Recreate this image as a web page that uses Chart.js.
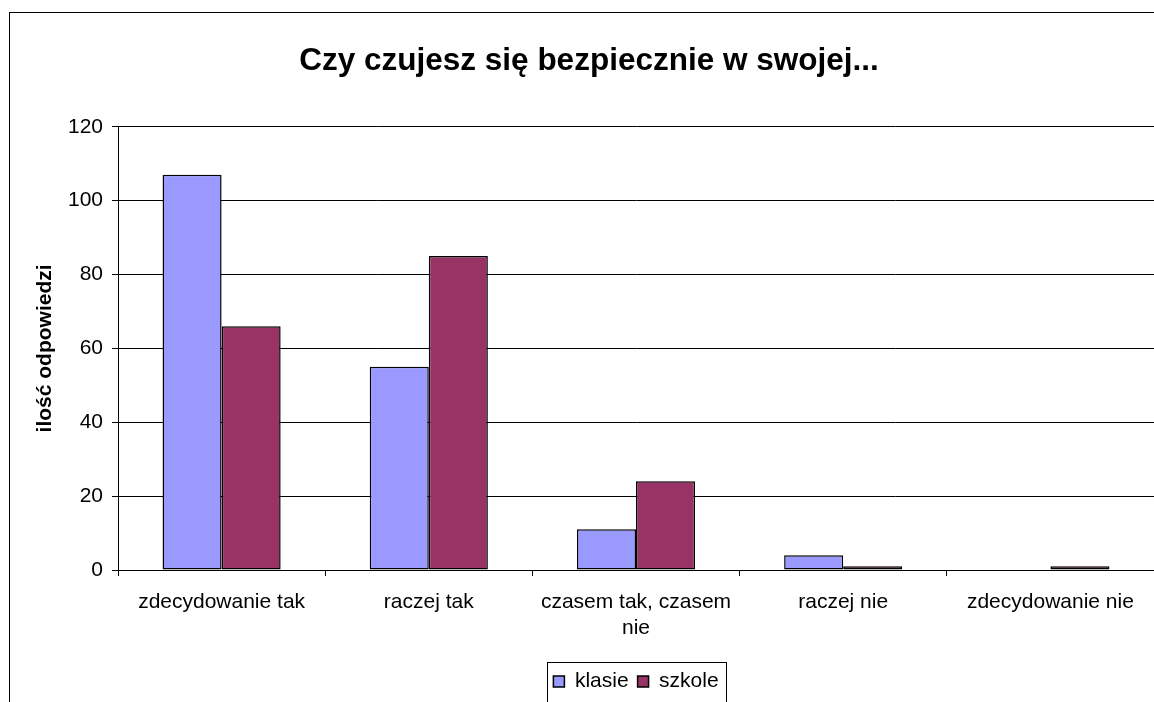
<!DOCTYPE html>
<html>
<head>
<meta charset="utf-8">
<script src="https://cdn.jsdelivr.net/npm/chart.js@4"></script>
<style>
  html, body { margin: 0; padding: 0; background: #fff; }
  #wrap { width: 1154px; height: 702px; position: relative; }
</style>
</head>
<body>
<div id="wrap"><canvas id="c" width="1154" height="702"></canvas></div>
<script>
const categories = ['zdecydowanie tak', 'raczej tak', ['czasem tak, czasem', 'nie'], 'raczej nie', 'zdecydowanie nie'];
const klasie = [107, 55, 11, 4, 0];
const szkole = [66, 85, 24, 1, 1];
const yTicks = [0, 20, 40, 60, 80, 100, 120];
const titleText = 'Czy czujesz się bezpiecznie w swojej...';
const yTitle = 'ilość odpowiedzi';

const FONT = '"Liberation Sans", Arial, sans-serif';

const framePlugin = {
  id: 'frame',
  beforeDraw(chart) {
    const ctx = chart.ctx;
    ctx.save();
    ctx.fillStyle = '#fff';
    ctx.fillRect(0, 0, chart.width, chart.height);
    ctx.strokeStyle = '#000';
    ctx.lineWidth = 1;
    ctx.strokeRect(9.5, 12.5, chart.width + 20, chart.height + 20);
    ctx.restore();
  },
  afterDraw(chart) {
    const lg = chart.legend;
    if (!lg || !lg.legendHitBoxes || !lg.legendHitBoxes.length) return;
    const hb = lg.legendHitBoxes;
    const left = Math.min(...hb.map(b => b.left)) - 6;
    const right = Math.max(...hb.map(b => b.left + b.width)) + 8;
    const ctx = chart.ctx;
    ctx.save();
    ctx.strokeStyle = '#000';
    ctx.lineWidth = 1;
    ctx.strokeRect(Math.round(left) + 0.5, Math.round(lg.top) + 0.5, Math.round(right - left), chart.height);
    ctx.restore();
  }
};

new Chart(document.getElementById('c'), {
  type: 'bar',
  data: {
    labels: categories,
    datasets: [
      { label: 'klasie', data: klasie, backgroundColor: '#9999FF', borderColor: '#000', borderWidth: 1.5, borderSkipped: false },
      { label: 'szkole', data: szkole, backgroundColor: '#993366', borderColor: '#000', borderWidth: 1.5, borderSkipped: false }
    ]
  },
  options: {
    responsive: false,
    animation: false,
    devicePixelRatio: 1,
    layout: { padding: { left: 24, right: 0, top: 0, bottom: 0 } },
    datasets: { bar: { categoryPercentage: 0.57, barPercentage: 1.0 } },
    plugins: {
      title: {
        display: true,
        text: titleText,
        color: '#000',
        font: { family: FONT, size: 31.5, weight: 'bold', lineHeight: 1.2 },
        padding: { top: 42, bottom: 47 }
      },
      legend: {
        display: true,
        position: 'bottom',
        fullSize: false,
        labels: {
          color: '#000',
          font: { family: FONT, size: 21 },
          boxWidth: 11,
          boxHeight: 11,
          padding: 9
        }
      },
      tooltip: { enabled: false }
    },
    scales: {
      x: {
        offset: true,
        grid: { display: true, drawOnChartArea: false, drawTicks: true, tickLength: 6, color: '#000', lineWidth: 1, offset: true },
        border: { display: true, color: '#000', width: 1 },
        ticks: { color: '#000', font: { family: FONT, size: 21, lineHeight: 1.2 }, padding: 14, maxRotation: 0, autoSkip: false },
        afterFit(s) { s.height = 92; }
      },
      y: {
        min: 0,
        max: 120,
        afterBuildTicks(s) { s.ticks = yTicks.map(v => ({ value: v })); },
        grid: { color: '#000', lineWidth: 1, drawTicks: true, tickLength: 6 },
        border: { display: true, color: '#000', width: 1 },
        ticks: { color: '#000', font: { family: FONT, size: 21 }, padding: 9 },
        title: {
          display: true,
          text: yTitle,
          color: '#000',
          font: { family: FONT, size: 21, weight: 'bold', lineHeight: 1.2 },
          padding: { top: 9, bottom: 0 }
        },
        afterFit(s) { s.width = 94; }
      }
    }
  },
  plugins: [framePlugin]
});
</script>
</body>
</html>
